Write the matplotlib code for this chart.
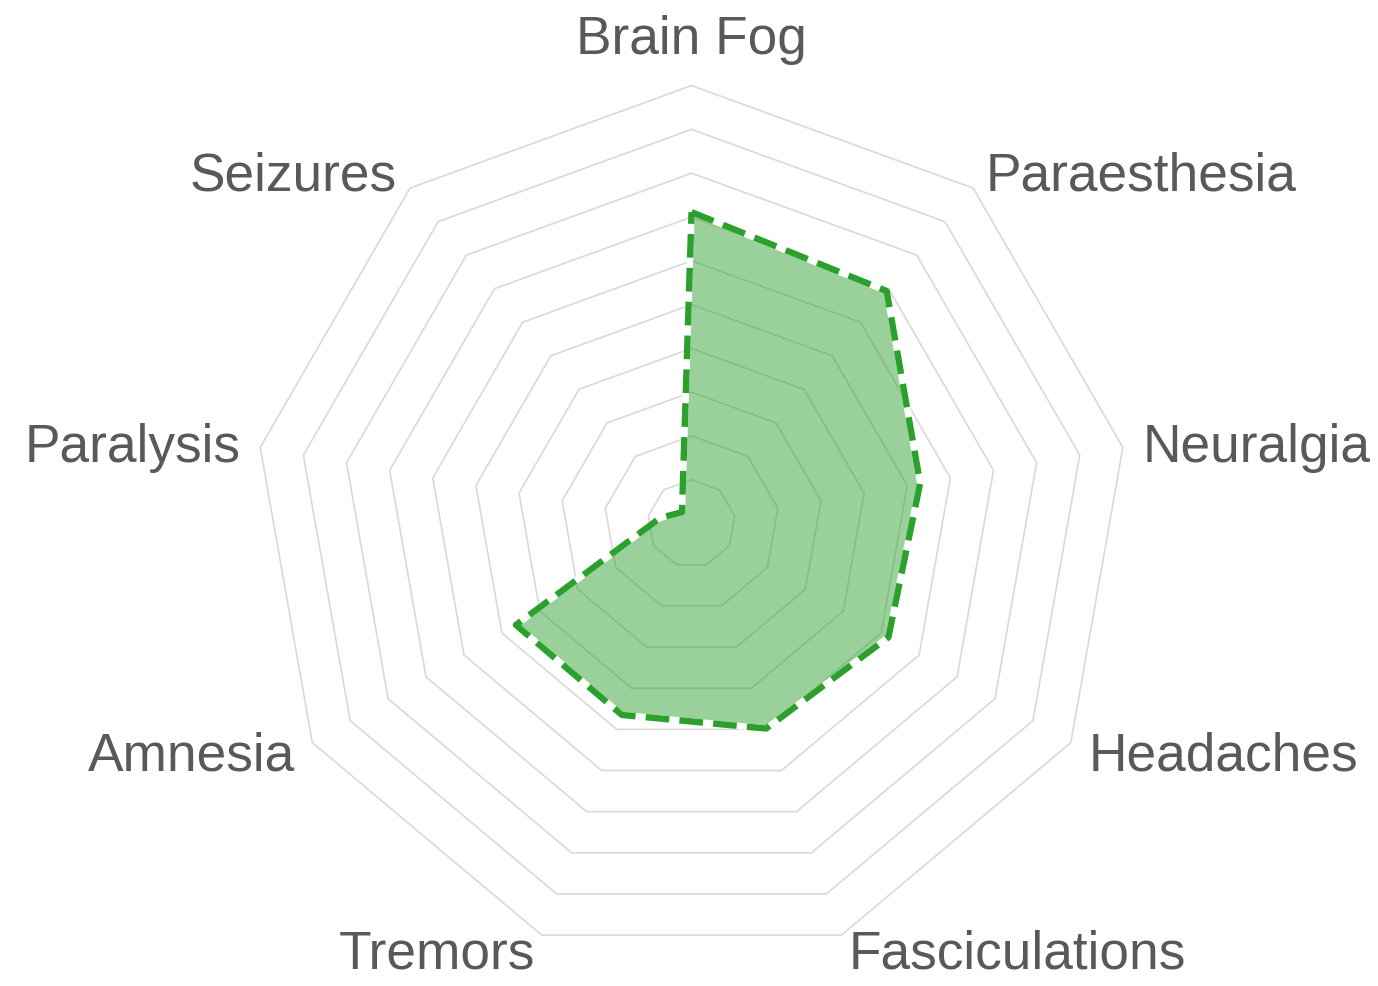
import numpy as np
import matplotlib
matplotlib.use("Agg")
from matplotlib import pyplot as plt
from matplotlib.transforms import ScaledTranslation

categories = ["Brain Fog", "Paraesthesia", "Neuralgia", "Headaches", "Fasciculations",
              "Tremors", "Amnesia", "Paralysis", "Seizures"]
values = [7.11, 6.93, 5.3, 5.19, 4.98, 4.65, 4.63, 0.73, 0.34]
ring_levels = [1, 2, 3, 4, 5, 6, 7, 8, 9, 10]

plt.rcParams['font.family'] = ['Liberation Sans', 'DejaVu Sans']

n = len(categories)
angles = np.linspace(0, 2 * np.pi, n, endpoint=False)
angles_closed = np.append(angles, angles[0])
vals_closed = np.append(values, values[0])

fig = plt.figure(figsize=(13.78, 9.86), dpi=100)
ax = fig.add_axes([0.1840, 0.0248, 0.6357, 0.8884], projection='polar')
ax.set_theta_offset(np.pi / 2)
ax.set_theta_direction(-1)
ax.set_ylim(0, 10)
ax.grid(False)
ax.spines['polar'].set_visible(False)
ax.set_xticks([])
ax.set_yticks([])
ax.patch.set_visible(False)

# polygon grid rings
for lvl in ring_levels:
    ax.plot(angles_closed, [lvl] * (n + 1), color='#d9d9d9', lw=1.2, zorder=1, clip_on=False)

# data
ax.fill(angles_closed, vals_closed, color='#2ca02c', alpha=0.48, lw=0, zorder=2)
ax.plot(angles_closed, vals_closed, color='white', lw=4.6, zorder=3)
ax.plot(angles_closed, vals_closed, color='#2ca02c', lw=4.6, ls='--', zorder=4)

# labels
shift = ScaledTranslation(0, -0.04, fig.dpi_scale_trans)
for ang, lab in zip(angles, categories):
    s = np.sin(ang)
    c = np.cos(ang)
    if abs(s) < 1e-6:
        ha, va = 'center', 'bottom'
    elif s > 0:
        ha, va = 'left', 'center'
    else:
        ha, va = 'right', 'center'
    tr = ax.transData + shift if abs(c) < 0.9 else ax.transData
    ax.text(ang, 10.46, lab, ha=ha, va=va, fontsize=38.3, color='#595959', transform=tr)

fig.savefig('out.png', dpi=100)
